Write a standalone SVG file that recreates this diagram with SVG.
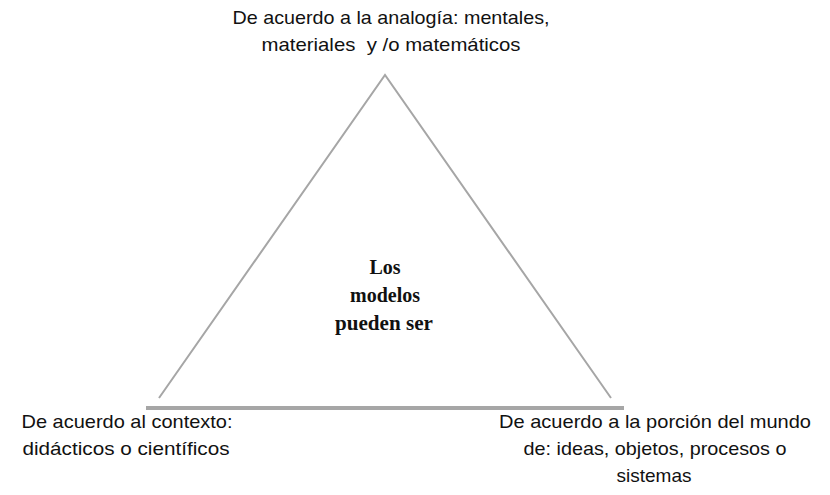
<svg xmlns="http://www.w3.org/2000/svg" width="830" height="495" viewBox="0 0 830 495">
<style>
.lbl{font-family:"Liberation Sans","Open Sans",sans-serif;font-size:19px;fill:#111;text-anchor:middle}
.ctr{font-family:"Liberation Serif","Times New Roman",serif;font-size:20px;font-weight:bold;fill:#111;text-anchor:middle}
.side{stroke:#a6a6a6;stroke-width:2;fill:none}
.base{stroke:#a6a6a6;stroke-width:4;fill:none}
</style>
<rect width="830" height="495" fill="#fff"/>
<g id="connectors">
<path class="side" d="M159,398 L385,75 L611,398"/>
<line class="base" x1="146" y1="408" x2="624" y2="408"/>
</g>
<g id="top">
<text class="lbl" x="391" y="24" textLength="317" lengthAdjust="spacingAndGlyphs">De acuerdo a la analogía: mentales,</text>
<text class="lbl" x="391" y="51" textLength="259" lengthAdjust="spacingAndGlyphs" xml:space="preserve">materiales  y /o matemáticos</text>
</g>
<g id="center">
<text class="ctr" x="385" y="274">Los</text>
<text class="ctr" x="385" y="302">modelos</text>
<text class="ctr" x="384" y="330" textLength="98" lengthAdjust="spacingAndGlyphs" xml:space="preserve">pueden ser</text>
</g>
<g id="left">
<text class="lbl" x="127" y="428" textLength="211" lengthAdjust="spacingAndGlyphs">De acuerdo al contexto:</text>
<text class="lbl" x="126" y="455" textLength="207" lengthAdjust="spacingAndGlyphs">didácticos o científicos</text>
</g>
<g id="right">
<text class="lbl" x="655" y="428" textLength="312" lengthAdjust="spacingAndGlyphs">De acuerdo a la porción del mundo</text>
<text class="lbl" x="655" y="455" textLength="263" lengthAdjust="spacingAndGlyphs">de: ideas, objetos, procesos o</text>
<text class="lbl" x="654" y="482" textLength="75" lengthAdjust="spacingAndGlyphs">sistemas</text>
</g>
</svg>
